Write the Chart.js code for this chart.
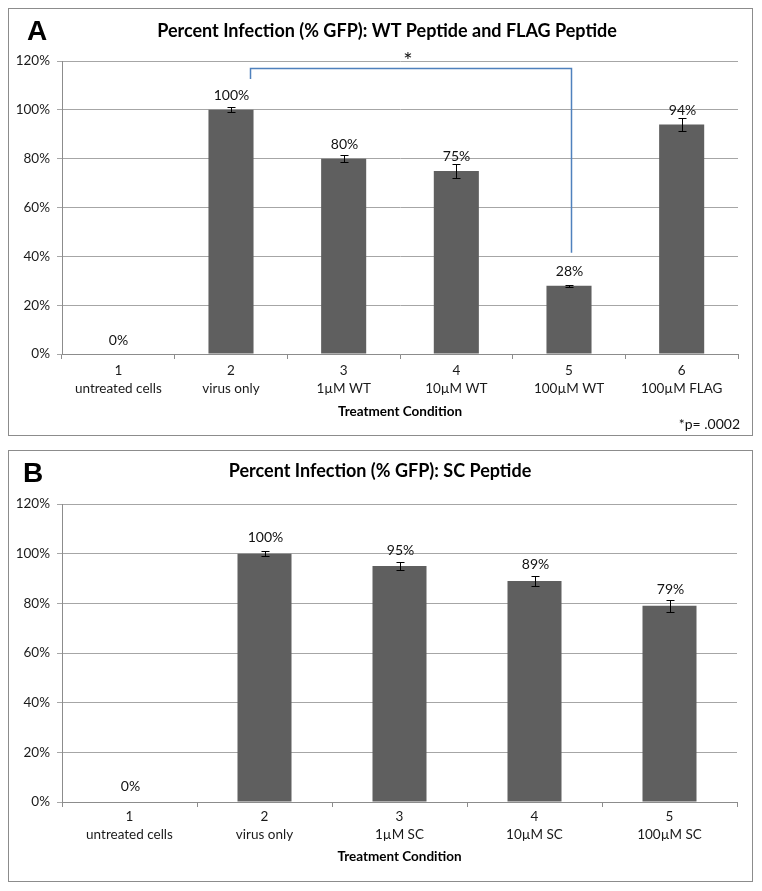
<!DOCTYPE html>
<html><head><meta charset="utf-8">
<script src="https://cdn.jsdelivr.net/npm/chart.js@4.4.1/dist/chart.umd.min.js"></script>
<style>
html,body{margin:0;padding:0;background:#fff;}
.panel{position:absolute;left:8px;width:743px;border:1px solid #8c8c8c;background:#fff;}
#pa{top:8px;height:426px;}
#pb{top:450px;height:430px;}
canvas{display:block;}
</style></head><body>
<div class="panel" id="pa"><canvas id="ca" width="743" height="426"></canvas></div>
<div class="panel" id="pb"><canvas id="cb" width="743" height="430"></canvas></div>
<script>
// ---- data ----
const categoriesA = [['1','untreated cells'],['2','virus only'],['3','1µM WT'],['4','10µM WT'],['5','100µM WT'],['6','100µM FLAG']];
const valuesA = [0, 100, 80, 75, 28, 94];
const errorsA = [0, 1.0, 1.3, 3.0, 0.4, 2.5];
const categoriesB = [['1','untreated cells'],['2','virus only'],['3','1µM SC'],['4','10µM SC'],['5','100µM SC']];
const valuesB = [0, 100, 95, 89, 79];
const errorsB = [0, 1.0, 1.5, 1.9, 2.3];
const yTicks = [0, 20, 40, 60, 80, 100, 120];
const titleA = 'Percent Infection (% GFP): WT Peptide and FLAG Peptide';
const titleB = 'Percent Infection (% GFP): SC Peptide';
const xTitle = 'Treatment Condition';
const noteA = '*p= .0002';
// significance bracket (category index / percent value)
const bracketX = [1.17, 4.02];
const bracketY = [112.6, 117.0, 41.5]; // left leg end, top, right leg end
const starPos = [2.57, 121.8];

Chart.defaults.font.family = 'Lato, "Open Sans", sans-serif';
Chart.defaults.color = '#1a1a1a';

const overlay = {
  id: 'overlay',
  afterDatasetsDraw(chart, args, o) {
    const ctx = chart.ctx, xs = chart.scales.x, ys = chart.scales.y;
    ctx.save();
    ctx.strokeStyle = '#000'; ctx.lineWidth = 1;
    o.values.forEach((v, i) => {
      const px = Math.round(xs.getPixelForValue(i)) + 0.5;
      const e = o.errors[i];
      if (e > 0) {
        const t = Math.round(ys.getPixelForValue(v + e)) + 0.5;
        const b = Math.round(ys.getPixelForValue(v - e)) + 0.5;
        ctx.beginPath();
        ctx.moveTo(px, t); ctx.lineTo(px, b);
        ctx.moveTo(px - 4, t); ctx.lineTo(px + 4, t);
        ctx.moveTo(px - 4, b); ctx.lineTo(px + 4, b);
        ctx.stroke();
      }
      ctx.fillStyle = '#111';
      ctx.font = '14px Lato';
      ctx.textAlign = 'center'; ctx.textBaseline = 'middle';
      ctx.fillText(Math.round(v) + '%', px, ys.getPixelForValue(v) - o.labelGap);
    });
    if (o.bracket) {
      const x1 = Math.round(xs.getPixelForValue(bracketX[0])) + 0.5;
      const x2 = Math.round(xs.getPixelForValue(bracketX[1])) + 0.5;
      const yl = ys.getPixelForValue(bracketY[0]);
      const yt = Math.round(ys.getPixelForValue(bracketY[1])) + 0.5;
      const yr = ys.getPixelForValue(bracketY[2]);
      ctx.strokeStyle = '#4f81bd'; ctx.lineWidth = 1.5;
      ctx.beginPath();
      ctx.moveTo(x1, yl); ctx.lineTo(x1, yt); ctx.lineTo(x2, yt); ctx.lineTo(x2, yr);
      ctx.stroke();
      ctx.fillStyle = '#111'; ctx.font = '22px Lato';
      ctx.fillText('*', xs.getPixelForValue(starPos[0]), ys.getPixelForValue(starPos[1]) + 4);
    }
    ctx.restore();
  },
  afterDraw(chart, args, o) {
    const ctx = chart.ctx;
    ctx.save();
    ctx.fillStyle = '#000';
    ctx.textBaseline = 'middle';
    ctx.textAlign = 'center';
    ctx.font = 'bold 18px Lato';
    ctx.fillText(o.title, o.titleX, o.titleY);
    ctx.textAlign = 'left';
    ctx.font = 'bold 28px "Liberation Sans", Arial, sans-serif';
    ctx.fillText(o.letter, o.letterX, o.letterY);
    if (o.note) {
      ctx.textAlign = 'right';
      ctx.font = '14px Lato';
      ctx.fillStyle = '#111';
      ctx.fillText(o.note, o.noteX, o.noteY);
    }
    ctx.restore();
  }
};

function makeChart(id, cats, vals, errs, cfg) {
  return new Chart(document.getElementById(id), {
    type: 'bar',
    data: { labels: cats, datasets: [{ data: vals, backgroundColor: '#5f5f5f', borderWidth: 0,
      categoryPercentage: 1.0, barPercentage: 0.4 }] },
    options: {
      responsive: false, animation: false, devicePixelRatio: 1,
      layout: { padding: { top: cfg.top, left: 0, right: cfg.right, bottom: 0 } },
      plugins: { legend: { display: false }, tooltip: { enabled: false },
        overlay: Object.assign({ values: vals, errors: errs }, cfg.overlay) },
      scales: {
        x: {
          afterFit(s) { s.height = cfg.xHeight; },
          grid: { display: true, drawOnChartArea: false, drawTicks: true, tickLength: 5, offset: true, color: '#8c8c8c' },
          border: { display: true, color: '#8c8c8c' },
          ticks: { font: { size: 13.5, lineHeight: 1.3 }, color: '#1a1a1a', padding: cfg.xPad, maxRotation: 0, autoSkip: false },
          title: { display: true, text: xTitle, font: { size: 13.5, weight: 'bold' }, color: '#000',
            padding: { top: 0, bottom: cfg.titlePad } }
        },
        y: {
          min: 0, max: 120,
          afterFit(s) { s.width = 53; },
          afterBuildTicks(s) { s.ticks = yTicks.map(v => ({ value: v })); },
          grid: { color: '#a6a6a6', tickLength: 5, drawTicks: true },
          border: { display: true, color: '#8c8c8c' },
          ticks: { font: { size: 13.5 }, color: '#1a1a1a', padding: 7, callback: v => v + '%' }
        }
      }
    },
    plugins: [overlay]
  });
}

makeChart('ca', categoriesA, valuesA, errorsA, {
  top: 52, right: 14, xHeight: 81, xPad: 3, titlePad: 15,
  overlay: { labelGap: 14, bracket: true, title: titleA, titleX: 378, titleY: 22,
    letter: 'A', letterX: 18, letterY: 23, note: noteA, noteX: 731, noteY: 415 }
});
makeChart('cb', categoriesB, valuesB, errorsB, {
  top: 53, right: 15, xHeight: 79, xPad: 1, titlePad: 16,
  overlay: { labelGap: 16, bracket: false, title: titleB, titleX: 371, titleY: 20,
    letter: 'B', letterX: 14, letterY: 23 }
});
</script>
</body></html>
